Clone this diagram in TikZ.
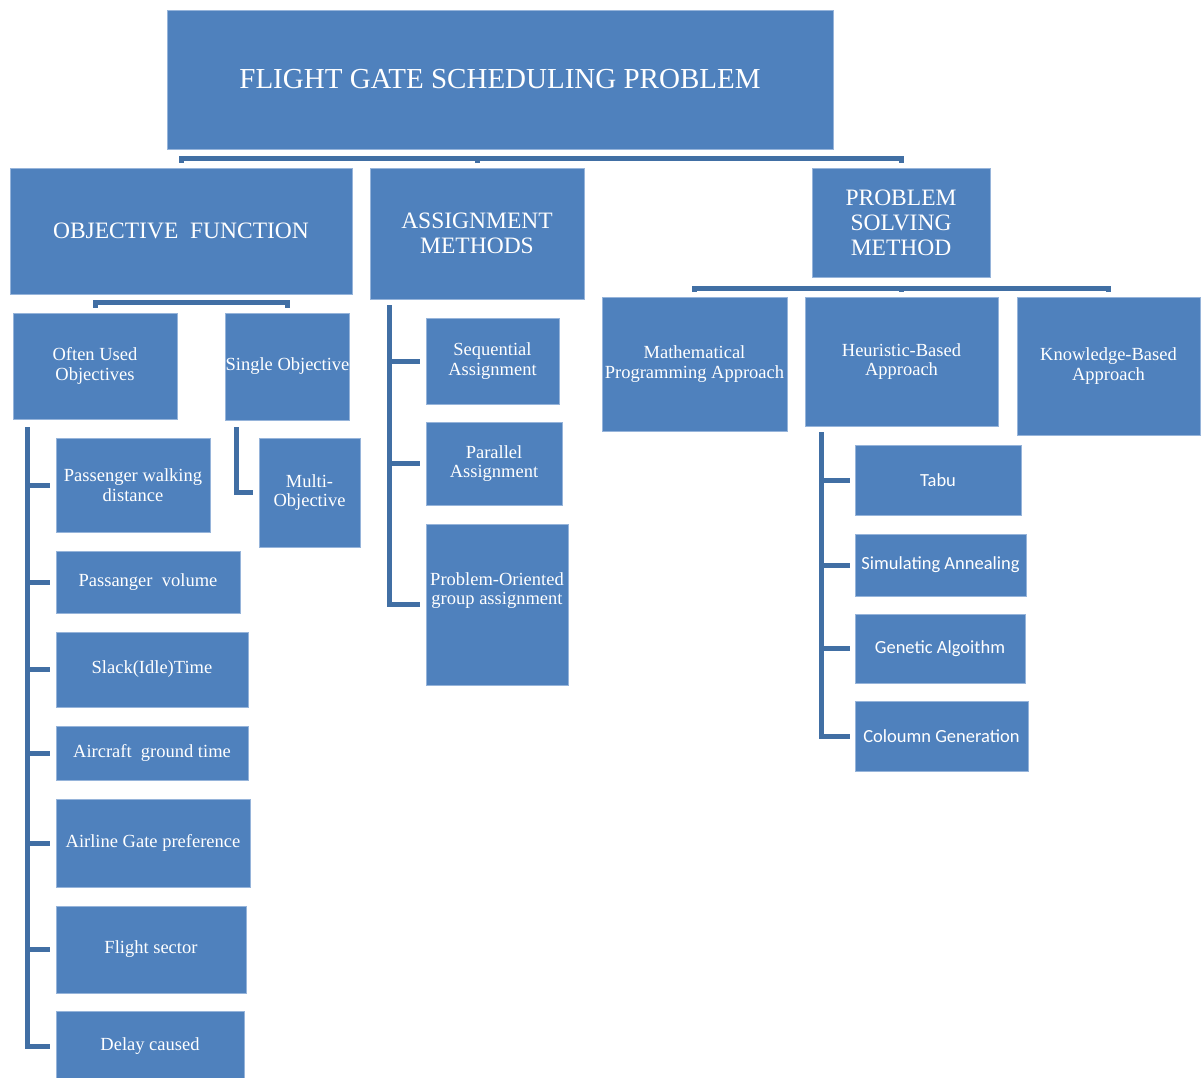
\documentclass[tikz,border=0pt]{standalone}
\usepackage{fontspec}
\setmainfont{Liberation Serif}
\newfontfamily\calibri{Carlito}
\usepackage{tikz}
\usetikzlibrary{positioning,calc}
\usepackage{xcolor}
\definecolor{boxblue}{RGB}{79,129,189}
\definecolor{boxedge}{RGB}{150,180,218}
\definecolor{connblue}{RGB}{65,111,164}

\begin{document}
\begin{tikzpicture}[x=1pt, y=-1pt,
    box/.style={fill=boxblue, draw=boxedge, line width=0.8pt, text=white, inner sep=0pt,
        align=center, font=\fontsize{18.5}{19.5}\selectfont},
    head/.style={box, font=\fontsize{23.5}{25}\selectfont},
    sbox/.style={box, font=\calibri\fontsize{18.5}{20}\selectfont},
    conn/.style={draw=connblue, line width=5pt}]
    \useasboundingbox (0,0) rectangle (1202,1077);
    % Top level
    \node[box, font=\fontsize{29}{31}\selectfont, minimum width=666, minimum height=139] (fgsp) at (500,79.5) {FLIGHT GATE SCHEDULING PROBLEM};
    % Second level
    \node[head, minimum width=342, minimum height=126] (of) at (181,231) {OBJECTIVE\ \ FUNCTION};
    \node[head, minimum width=214, minimum height=131] (am) at (477,233.5) {ASSIGNMENT\\METHODS};
    \node[head, minimum width=178, minimum height=109] (psm) at (901,222.5) {PROBLEM\\SOLVING\\METHOD};
    % Objective function
    \node[box, minimum width=164, minimum height=106] (ouo) at (95,366) {Often Used\\Objectives};
    \node[box, minimum width=123, minimum height=107] (so) at (287.5,366.5) {Single Objective};
    \node[box, minimum width=154, minimum height=94] (pwd) at (133,485) {Passenger walking\\distance};
    \node[box, minimum width=184, minimum height=62] (pv) at (148,582) {Passanger\ \ volume};
    \node[box, minimum width=192, minimum height=75] (sit) at (152,669.5) {Slack(Idle)Time};
    \node[box, minimum width=192, minimum height=54] (agt) at (152,753) {Aircraft\ \ ground time};
    \node[box, minimum width=194, minimum height=88] (agp) at (153,843) {Airline Gate preference};
    \node[box, minimum width=190, minimum height=87] (fsec) at (151,949.5) {Flight sector};
    \node[box, minimum width=188, minimum height=70] (dc) at (150,1046) {Delay caused};
    \node[box, minimum width=101, minimum height=109] (mo) at (309.5,492.5) {Multi-\\Objective};
    % Assignment methods
    \node[box, minimum width=133, minimum height=86] (seq) at (492.5,361) {Sequential\\Assignment};
    \node[box, minimum width=136, minimum height=83] (par) at (494,463.5) {Parallel\\Assignment};
    \node[box, minimum width=142, minimum height=161,
        label={[text=white, align=center, font=\fontsize{18.5}{19.5}\selectfont, yshift=14pt]center:{Problem-Oriented\\group assignment}}] (pog) at (497,604.5) {};
    % Problem solving method
    \node[box, minimum width=185, minimum height=134] (mpa) at (694.5,364) {Mathematical\\Programming Approach};
    \node[box, minimum width=193, minimum height=129] (hba) at (901.5,361.5) {Heuristic-Based\\Approach};
    \node[box, minimum width=183, minimum height=138] (kba) at (1108.5,366) {Knowledge-Based\\Approach};
    \node[sbox, minimum width=166, minimum height=70] (tabu) at (938,480) {Tabu};
    \node[sbox, minimum width=171, minimum height=62] (sim) at (940.5,565) {Simulating Annealing};
    \node[sbox, minimum width=170, minimum height=69] (gen) at (940,648.5) {Genetic Algoithm};
    \node[sbox, minimum width=173, minimum height=70] (col) at (941.5,736) {Coloumn Generation};
    % Bars
    \coordinate (topbar) at ([yshift=-9pt]fgsp.south);
    \coordinate (ofbar) at ([yshift=-8pt]of.south);
    \coordinate (psmbar) at ([yshift=-11pt]psm.south);
    \draw[conn] ([yshift=5pt]of.north) |- (topbar) -| ([yshift=5pt]psm.north);
    \draw[conn] ([yshift=5pt]am.north) -- (am.north |- topbar);
    \draw[conn] ([yshift=5pt]ouo.north) |- (ofbar) -| ([yshift=5pt]so.north);
    \draw[conn] ([yshift=5pt]mpa.north) |- (psmbar) -| ([yshift=5pt]kba.north);
    \draw[conn] ([yshift=5pt]hba.north) -- (hba.north |- psmbar);
    % Side branches
    \foreach \n in {pwd,pv,sit,agt,agp,fsec,dc}
        \draw[conn] ([xshift=15pt,yshift=-8pt]ouo.south west) |- ([xshift=-6pt]\n.west);
    \draw[conn] ([xshift=11pt,yshift=-7pt]so.south west) |- ([xshift=-6pt]mo.west);
    \foreach \n in {seq,par,pog}
        \draw[conn] ([xshift=20pt,yshift=-6pt]am.south west) |- ([xshift=-6pt]\n.west);
    \foreach \n in {tabu,sim,gen,col}
        \draw[conn] ([xshift=17pt,yshift=-6pt]hba.south west) |- ([xshift=-5pt]\n.west);
\end{tikzpicture}
\end{document}
